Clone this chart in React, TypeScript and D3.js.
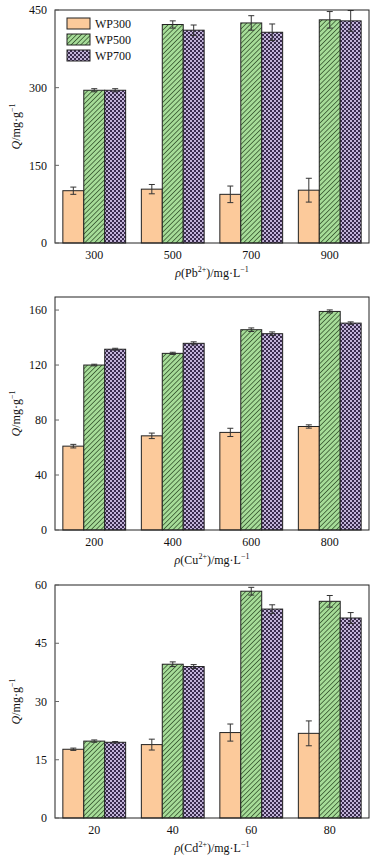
import React from "react";
import * as d3 from "d3";

const series = ["WP300", "WP500", "WP700"];

const pbCats = ["300", "500", "700", "900"];
const pbWP300 = [101, 104, 94, 102];
const pbWP500 = [295, 422, 425, 431];
const pbWP700 = [295, 411, 407, 429];
const pbErr300 = [7, 9, 16, 23];
const pbErr500 = [3, 7, 14, 16];
const pbErr700 = [3, 10, 16, 20];
const pbTicks = [0, 150, 300, 450];

const cuCats = ["200", "400", "600", "800"];
const cuWP300 = [61, 68.5, 71, 75.3];
const cuWP500 = [120, 128.5, 145.7, 159];
const cuWP700 = [131.5, 135.8, 142.8, 150.5];
const cuErr300 = [1.3, 2, 3, 1.2];
const cuErr500 = [0.6, 0.8, 1.3, 1.1];
const cuErr700 = [0.7, 1.1, 1.3, 0.9];
const cuTicks = [0, 40, 80, 120, 160];

const cdCats = ["20", "40", "60", "80"];
const cdWP300 = [17.7, 18.9, 22.0, 21.8];
const cdWP500 = [19.8, 39.6, 58.4, 55.8];
const cdWP700 = [19.5, 39.0, 53.8, 51.5];
const cdErr300 = [0.3, 1.4, 2.2, 3.2];
const cdErr500 = [0.3, 0.6, 1.0, 1.5];
const cdErr700 = [0.2, 0.5, 1.1, 1.4];
const cdTicks = [0, 15, 30, 45, 60];

const fills = ["#fcca9b", "url(#hatch)", "url(#checker)"];
const FONT = "'Liberation Serif', 'Times New Roman', serif";

type PanelProps = {
  top: number;
  cats: string[];
  values: number[][];
  errors: number[][];
  ticks: number[];
  yMax: number;
  ion: string;
  charge: string;
  legend?: boolean;
};

const L = 55;
const R = 369;
const H = 233;

function Panel({ top, cats, values, errors, ticks, yMax, ion, charge, legend }: PanelProps) {
  const x = d3.scaleBand().domain(cats).range([L, R]).paddingInner(0.2).paddingOuter(0.1);
  const xs = d3.scaleBand().domain(series).range([0, x.bandwidth()]);
  const y = d3.scaleLinear().domain([0, yMax]).range([top + H, top]);
  const bottom = top + H;
  const midY = top + H / 2;
  return (
    <g>
      {cats.map((c, i) =>
        series.map((s, j) => {
          const v = values[j][i];
          const e = errors[j][i];
          const bx = (x(c) as number) + (xs(s) as number);
          const bw = xs.bandwidth();
          const cx = bx + bw / 2;
          return (
            <g key={c + s}>
              <rect x={bx} y={y(v)} width={bw} height={bottom - y(v)} fill={fills[j]} stroke="#222" strokeWidth={1} />
              <g stroke="#333" strokeWidth={1}>
                <line x1={cx} x2={cx} y1={y(v + e)} y2={y(v - e)} />
                <line x1={cx - 3} x2={cx + 3} y1={y(v + e)} y2={y(v + e)} />
                <line x1={cx - 3} x2={cx + 3} y1={y(v - e)} y2={y(v - e)} />
              </g>
            </g>
          );
        })
      )}
      <rect x={L} y={top} width={R - L} height={H} fill="none" stroke="#222" strokeWidth={1} />
      {ticks.map((t) => (
        <g key={t}>
          <line x1={L} x2={L + 4} y1={y(t)} y2={y(t)} stroke="#666" strokeWidth={1} />
          <text x={47} y={y(t)} dy="0.35em" textAnchor="end" fontSize={12} fontFamily={FONT} fill="#111">
            {t}
          </text>
        </g>
      ))}
      {cats.map((c) => (
        <text key={c} x={(x(c) as number) + x.bandwidth() / 2} y={bottom + 16} textAnchor="middle" fontSize={12} fontFamily={FONT} fill="#111">
          {c}
        </text>
      ))}
      <text x={(L + R) / 2} y={bottom + 34} textAnchor="middle" fontSize={12} fontFamily={FONT} fill="#111">
        <tspan fontStyle="italic">ρ</tspan>
        <tspan>({ion}</tspan>
        <tspan fontSize={8} dy={-5}>{charge}</tspan>
        <tspan dy={5}>)/mg·L</tspan>
        <tspan fontSize={8} dy={-5}>−1</tspan>
      </text>
      <text transform={`translate(20,${midY}) rotate(-90)`} textAnchor="middle" fontSize={12} fontFamily={FONT} fill="#111">
        <tspan fontStyle="italic">Q</tspan>
        <tspan>/mg·g</tspan>
        <tspan fontSize={8} dy={-5}>−1</tspan>
      </text>
      {legend &&
        series.map((s, j) => (
          <g key={s}>
            <rect x={67} y={top + 8 + j * 16} width={23} height={11} fill={fills[j]} stroke="#222" strokeWidth={1} />
            <text x={95} y={top + 8 + j * 16 + 5.5} dy="0.35em" fontSize={12} fontFamily={FONT} fill="#111">
              {s}
            </text>
          </g>
        ))}
    </g>
  );
}

export default function App() {
  return (
    <svg width={377} height={858} style={{ position: "absolute", left: 0, top: 0, background: "#fff" }}>
      <defs>
        <pattern id="hatch" patternUnits="userSpaceOnUse" width={3.4} height={3.4} patternTransform="rotate(45)">
          <rect width={3.4} height={3.4} fill="#a6dc98" />
          <line x1={0} y1={0} x2={0} y2={3.4} stroke="#1f3a1a" strokeWidth={1.3} />
        </pattern>
        <pattern id="checker" patternUnits="userSpaceOnUse" width={4} height={4}>
          <rect width={4} height={4} fill="#c3b4da" />
          <rect x={0} y={0} width={2} height={2} fill="#3a2c4e" />
          <rect x={2} y={2} width={2} height={2} fill="#3a2c4e" />
        </pattern>
      </defs>
      <Panel
        top={10}
        cats={pbCats}
        values={[pbWP300, pbWP500, pbWP700]}
        errors={[pbErr300, pbErr500, pbErr700]}
        ticks={pbTicks}
        yMax={450}
        ion="Pb"
        charge="2+"
        legend
      />
      <Panel
        top={297}
        cats={cuCats}
        values={[cuWP300, cuWP500, cuWP700]}
        errors={[cuErr300, cuErr500, cuErr700]}
        ticks={cuTicks}
        yMax={169.5}
        ion="Cu"
        charge="2+"
      />
      <Panel
        top={585}
        cats={cdCats}
        values={[cdWP300, cdWP500, cdWP700]}
        errors={[cdErr300, cdErr500, cdErr700]}
        ticks={cdTicks}
        yMax={60}
        ion="Cd"
        charge="2+"
      />
    </svg>
  );
}
